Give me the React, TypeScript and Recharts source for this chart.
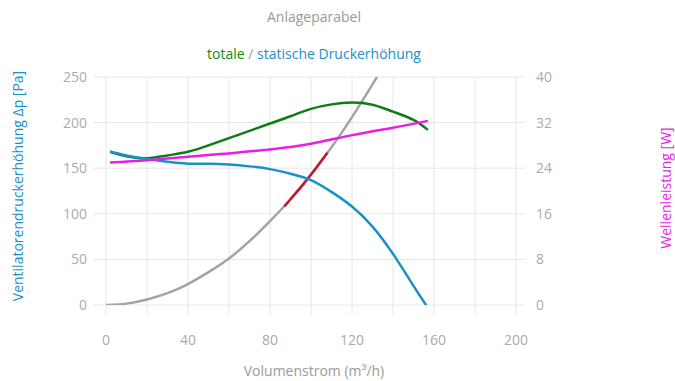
import React from "react";
import { LineChart, Line, XAxis, YAxis, CartesianGrid } from "recharts";

// Volumenstrom (m³/h) / Druck (Pa) / Leistung (W)
const parabolaFlow = [0, 10, 20, 30, 40, 50, 60, 70, 80, 90, 100, 110, 120, 130, 133];
const parabolaPressure = [0, 1.5, 6, 13, 23, 36, 51, 70, 92, 116, 143, 173, 206, 242, 253];

const pointFlow = [87, 90, 95, 100, 105, 108];
const pointPressure = [108, 116, 129, 143, 158, 167];

const staticFlow = [2, 10, 20, 30, 40, 50, 60, 70, 80, 90, 100, 110, 120, 130, 140, 150, 157];
const staticPressure = [168, 164, 160, 157, 155, 155, 154, 152, 149, 144, 137, 124, 108, 86, 56, 21, -3];

const totalFlow = [2, 10, 20, 30, 40, 50, 60, 70, 80, 90, 100, 110, 120, 130, 140, 150, 157];
const totalPressure = [168, 163, 161, 164, 168, 175, 183, 191, 199, 207, 215, 220, 222, 219.5, 212, 203, 192];

const powerFlow = [2, 20, 40, 60, 80, 100, 120, 140, 157];
const powerWatts = [25.0, 25.4, 26.0, 26.6, 27.3, 28.3, 29.8, 31.1, 32.3];

const xTicks = [0, 20, 40, 60, 80, 100, 120, 140, 160, 180, 200];
const leftTicks = [0, 50, 100, 150, 200, 250];
const rightTicks = [0, 8, 16, 24, 32, 40];

const toPoints = (xs: number[], ys: number[]) => xs.map((x, i) => ({ x, y: ys[i] }));

const parabola = toPoints(parabolaFlow, parabolaPressure);
const operatingPoint = toPoints(pointFlow, pointPressure);
const staticCurve = toPoints(staticFlow, staticPressure);
const totalCurve = toPoints(totalFlow, totalPressure);
const powerCurve = toPoints(powerFlow, powerWatts);

const FONT = "'Open Sans', sans-serif";
const GRID = "#e6e6e6";
const TICK = { fontSize: 14, fill: "#ababab", fontFamily: FONT };

const BLUE = "#1a90c8";
const GREEN = "#0c7d16";
const MAGENTA = "#e61ee6";
const GRAY_LINE = "#a3a3a3";
const RED = "#c8152e";

const textBase: React.CSSProperties = {
  position: "absolute",
  fontFamily: FONT,
  fontSize: 14,
  whiteSpace: "nowrap",
  lineHeight: "18px",
};

export default function App() {
  return (
    <div style={{ position: "relative", width: 675, height: 381, background: "#fff" }}>
      <style>{`body{margin:0}`}</style>
      <LineChart
        width={675}
        height={381}
        margin={{ top: 77, right: 119, bottom: 46, left: 66 }}
      >
        <CartesianGrid stroke={GRID} yAxisId="left" />
        <XAxis
          type="number"
          dataKey="x"
          domain={[0, 200]}
          ticks={xTicks}
          interval={0}
          height={30}
          axisLine={false}
          tickLine={{ stroke: GRID }}
          tickSize={10}
          tickMargin={20}
          tick={TICK}
          tickFormatter={(v: number) => (v % 40 === 0 ? String(v) : "")}
        />
        <YAxis
          yAxisId="left"
          type="number"
          domain={[0, 250]}
          ticks={leftTicks}
          allowDataOverflow
          width={40}
          axisLine={false}
          tickLine={{ stroke: GRID }}
          tickSize={13}
          tickMargin={6}
          tick={TICK}
        />
        <YAxis
          yAxisId="right"
          orientation="right"
          type="number"
          domain={[0, 40]}
          ticks={rightTicks}
          width={40}
          axisLine={false}
          tickLine={{ stroke: GRID }}
          tickSize={9}
          tickMargin={11}
          tick={TICK}
        />
        <Line
          yAxisId="left"
          data={parabola}
          dataKey="y"
          type="natural"
          stroke={GRAY_LINE}
          strokeWidth={2.5}
          dot={false}
          isAnimationActive={false}
        />
        <Line
          yAxisId="left"
          data={operatingPoint}
          dataKey="y"
          type="natural"
          stroke={RED}
          strokeWidth={2.5}
          dot={false}
          isAnimationActive={false}
        />
        <Line
          yAxisId="left"
          data={totalCurve}
          dataKey="y"
          type="natural"
          stroke={GREEN}
          strokeWidth={2.5}
          dot={false}
          isAnimationActive={false}
        />
        <Line
          yAxisId="left"
          data={staticCurve}
          dataKey="y"
          type="natural"
          stroke={BLUE}
          strokeWidth={2.5}
          dot={false}
          isAnimationActive={false}
        />
        <Line
          yAxisId="right"
          data={powerCurve}
          dataKey="y"
          type="natural"
          stroke={MAGENTA}
          strokeWidth={2.5}
          dot={false}
          isAnimationActive={false}
        />
      </LineChart>

      <div style={{ ...textBase, left: 314, top: 8, transform: "translateX(-50%)", color: "#9a9a9a" }}>
        Anlageparabel
      </div>
      <div style={{ ...textBase, left: 314, top: 45, transform: "translateX(-50%)" }}>
        <span style={{ color: "#138a13" }}>totale</span>
        <span style={{ color: "#9a9a9a" }}> / </span>
        <span style={{ color: BLUE }}>statische Druckerhöhung</span>
      </div>
      <div style={{ ...textBase, left: 314, top: 362, transform: "translateX(-50%)", color: "#9a9a9a" }}>
        Volumenstrom (m³/h)
      </div>
      <div
        style={{
          ...textBase,
          left: 18,
          top: 186,
          transform: "translate(-50%, -50%) rotate(-90deg)",
          color: BLUE,
        }}
      >
        Ventilatorendruckerhöhung Δp [Pa]
      </div>
      <div
        style={{
          ...textBase,
          left: 666,
          top: 188,
          transform: "translate(-50%, -50%) rotate(-90deg)",
          color: MAGENTA,
        }}
      >
        Wellenleistung [W]
      </div>
    </div>
  );
}
